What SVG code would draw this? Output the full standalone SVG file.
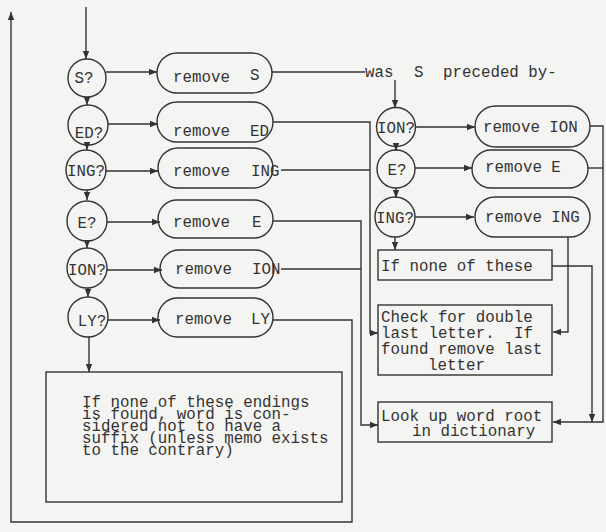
<svg xmlns="http://www.w3.org/2000/svg" width="606" height="532" viewBox="0 0 606 532">
<defs>
<marker id="ah" viewBox="0 0 10 10" refX="10" refY="5" markerWidth="8" markerHeight="8" markerUnits="userSpaceOnUse" orient="auto"><path d="M0,1 L10,5 L0,9 z" fill="#333"/></marker>
<style>
.c{stroke-width:1.4;stroke:#333;fill:none}
.n{fill:none;stroke:#333;stroke-width:1.4}
.t{font-family:"Liberation Mono","Courier New",monospace;font-size:15.8px;fill:#333}
.m{text-anchor:middle}
</style>
</defs>
<rect width="606" height="532" fill="#f4f4f2"/>
<g id="connectors">
<line class="c" x1="86" y1="7" x2="86" y2="59" marker-end="url(#ah)"/>
<line class="c" x1="87" y1="97" x2="87" y2="105" marker-end="url(#ah)"/>
<line class="c" x1="87" y1="145" x2="87" y2="150" marker-end="url(#ah)"/>
<line class="c" x1="87" y1="190" x2="87" y2="200" marker-end="url(#ah)"/>
<line class="c" x1="87" y1="242" x2="87" y2="248" marker-end="url(#ah)"/>
<line class="c" x1="88" y1="288" x2="88" y2="297" marker-end="url(#ah)"/>
<line class="c" x1="89" y1="337" x2="89" y2="372" marker-end="url(#ah)"/>
<line class="c" x1="106" y1="72" x2="157" y2="72" marker-end="url(#ah)"/>
<line class="c" x1="108" y1="124" x2="158" y2="124" marker-end="url(#ah)"/>
<line class="c" x1="105" y1="171" x2="158" y2="171" marker-end="url(#ah)"/>
<line class="c" x1="107" y1="222" x2="160" y2="222" marker-end="url(#ah)"/>
<line class="c" x1="107" y1="270" x2="162" y2="270" marker-end="url(#ah)"/>
<line class="c" x1="108" y1="320" x2="160" y2="320" marker-end="url(#ah)"/>
<line class="c" x1="272" y1="72" x2="365" y2="72"/>
<line class="c" x1="395" y1="80" x2="395" y2="108" marker-end="url(#ah)"/>
<line class="c" x1="396" y1="146" x2="396" y2="151" marker-end="url(#ah)"/>
<line class="c" x1="396" y1="188" x2="396" y2="198" marker-end="url(#ah)"/>
<line class="c" x1="395" y1="237" x2="395" y2="250" marker-end="url(#ah)"/>
<line class="c" x1="415" y1="127" x2="475" y2="127" marker-end="url(#ah)"/>
<line class="c" x1="415" y1="168" x2="472" y2="168" marker-end="url(#ah)"/>
<line class="c" x1="415" y1="217" x2="474" y2="217" marker-end="url(#ah)"/>
<path class="c" d="M273,122 H370 V333 H378" marker-end="url(#ah)"/>
<line class="c" x1="281" y1="170" x2="370" y2="170"/>
<path class="c" d="M273,221 H361 V425 H378" marker-end="url(#ah)"/>
<line class="c" x1="281" y1="269" x2="361" y2="269"/>
<path class="c" d="M273,320 H352 V522 H11 V12" marker-end="url(#ah)"/>
<path class="c" d="M590,126 H603 V422 H553" marker-end="url(#ah)"/>
<line class="c" x1="588" y1="168" x2="603" y2="168"/>
<path class="c" d="M568,237 V332 H553" marker-end="url(#ah)"/>
<path class="c" d="M552,266 H592 V422" marker-end="url(#ah)"/>
</g>
<g id="q-s"><circle class="n" cx="87" cy="78" r="19"/><text class="t m" x="84" y="83">S?</text></g>
<g id="q-ed"><circle class="n" cx="88" cy="125" r="20"/><text class="t m" x="89" y="138">ED?</text></g>
<g id="q-ing"><circle class="n" cx="86" cy="170" r="20"/><text class="t m" x="86" y="176">ING?</text></g>
<g id="q-e"><circle class="n" cx="87" cy="221" r="20"/><text class="t m" x="87" y="228">E?</text></g>
<g id="q-ion"><circle class="n" cx="87" cy="268" r="20"/><text class="t m" x="87" y="275">ION?</text></g>
<g id="q-ly"><circle class="n" cx="88" cy="317" r="20"/><text class="t m" x="92" y="326">LY?</text></g>
<g id="r-s"><rect class="n" x="157" y="53" width="115" height="40" rx="20"/><text class="t" x="173" y="82">remove</text><text class="t" x="250" y="80">S</text></g>
<g id="r-ed"><rect class="n" x="157" y="102" width="116" height="40" rx="20"/><text class="t" x="173" y="136">remove</text><text class="t" x="250" y="136">ED</text></g>
<g id="r-ing"><rect class="n" x="158" y="148" width="115" height="40" rx="20"/><text class="t" x="173" y="176">remove</text><text class="t" x="251" y="176">ING</text></g>
<g id="r-e"><rect class="n" x="158" y="200" width="115" height="38" rx="19"/><text class="t" x="173" y="227">remove</text><text class="t" x="252" y="227">E</text></g>
<g id="r-ion"><rect class="n" x="160" y="250" width="114" height="38" rx="19"/><text class="t" x="175" y="274">remove</text><text class="t" x="252" y="274">ION</text></g>
<g id="r-ly"><rect class="n" x="158" y="298" width="115" height="39" rx="19.5"/><text class="t" x="175" y="324">remove</text><text class="t" x="251" y="324">LY</text></g>
<g id="was"><text class="t" x="365" y="77">was</text><text class="t" x="414" y="77">S</text><text class="t" x="443" y="77">preceded by-</text></g>
<g id="q2-ion"><circle class="n" cx="396" cy="127" r="19.5"/><text class="t m" x="396" y="133">ION?</text></g>
<g id="q2-e"><circle class="n" cx="396" cy="169" r="19"/><text class="t m" x="397" y="175">E?</text></g>
<g id="q2-ing"><circle class="n" cx="395" cy="217" r="20"/><text class="t m" x="395" y="223">ING?</text></g>
<g id="r2-ion"><rect class="n" x="475" y="106" width="115" height="41" rx="20.5"/><text class="t" x="483" y="132">remove ION</text></g>
<g id="r2-e"><rect class="n" x="472" y="150" width="116" height="38" rx="19"/><text class="t" x="485" y="172">remove E</text></g>
<g id="r2-ing"><rect class="n" x="475" y="197" width="115" height="40" rx="20"/><text class="t" x="485" y="222">remove ING</text></g>
<g id="none"><rect class="n" x="378" y="250" width="174" height="30"/><text class="t" x="381" y="271">If none of these</text></g>
<g id="check"><rect class="n" x="378" y="305" width="174" height="70"/>
<text class="t" x="381" y="322">Check for double</text>
<text class="t" x="381" y="338">last letter.</text><text class="t" x="514" y="338">If</text>
<text class="t" x="381" y="354">found remove last</text>
<text class="t" x="428" y="370">letter</text></g>
<g id="lookup"><rect class="n" x="378" y="402" width="174" height="40"/>
<text class="t" x="381" y="421">Look up word root</text>
<text class="t" x="412" y="436">in dictionary</text></g>
<g id="nosuffix"><rect class="n" x="46" y="372" width="296" height="130"/>
<text class="t" x="82" y="407">If none of these endings</text>
<text class="t" x="82" y="419">is found, word is con-</text>
<text class="t" x="82" y="431">sidered not to have a</text>
<text class="t" x="82" y="443">suffix (unless memo exists</text>
<text class="t" x="82" y="455">to the contrary)</text></g>
</svg>
